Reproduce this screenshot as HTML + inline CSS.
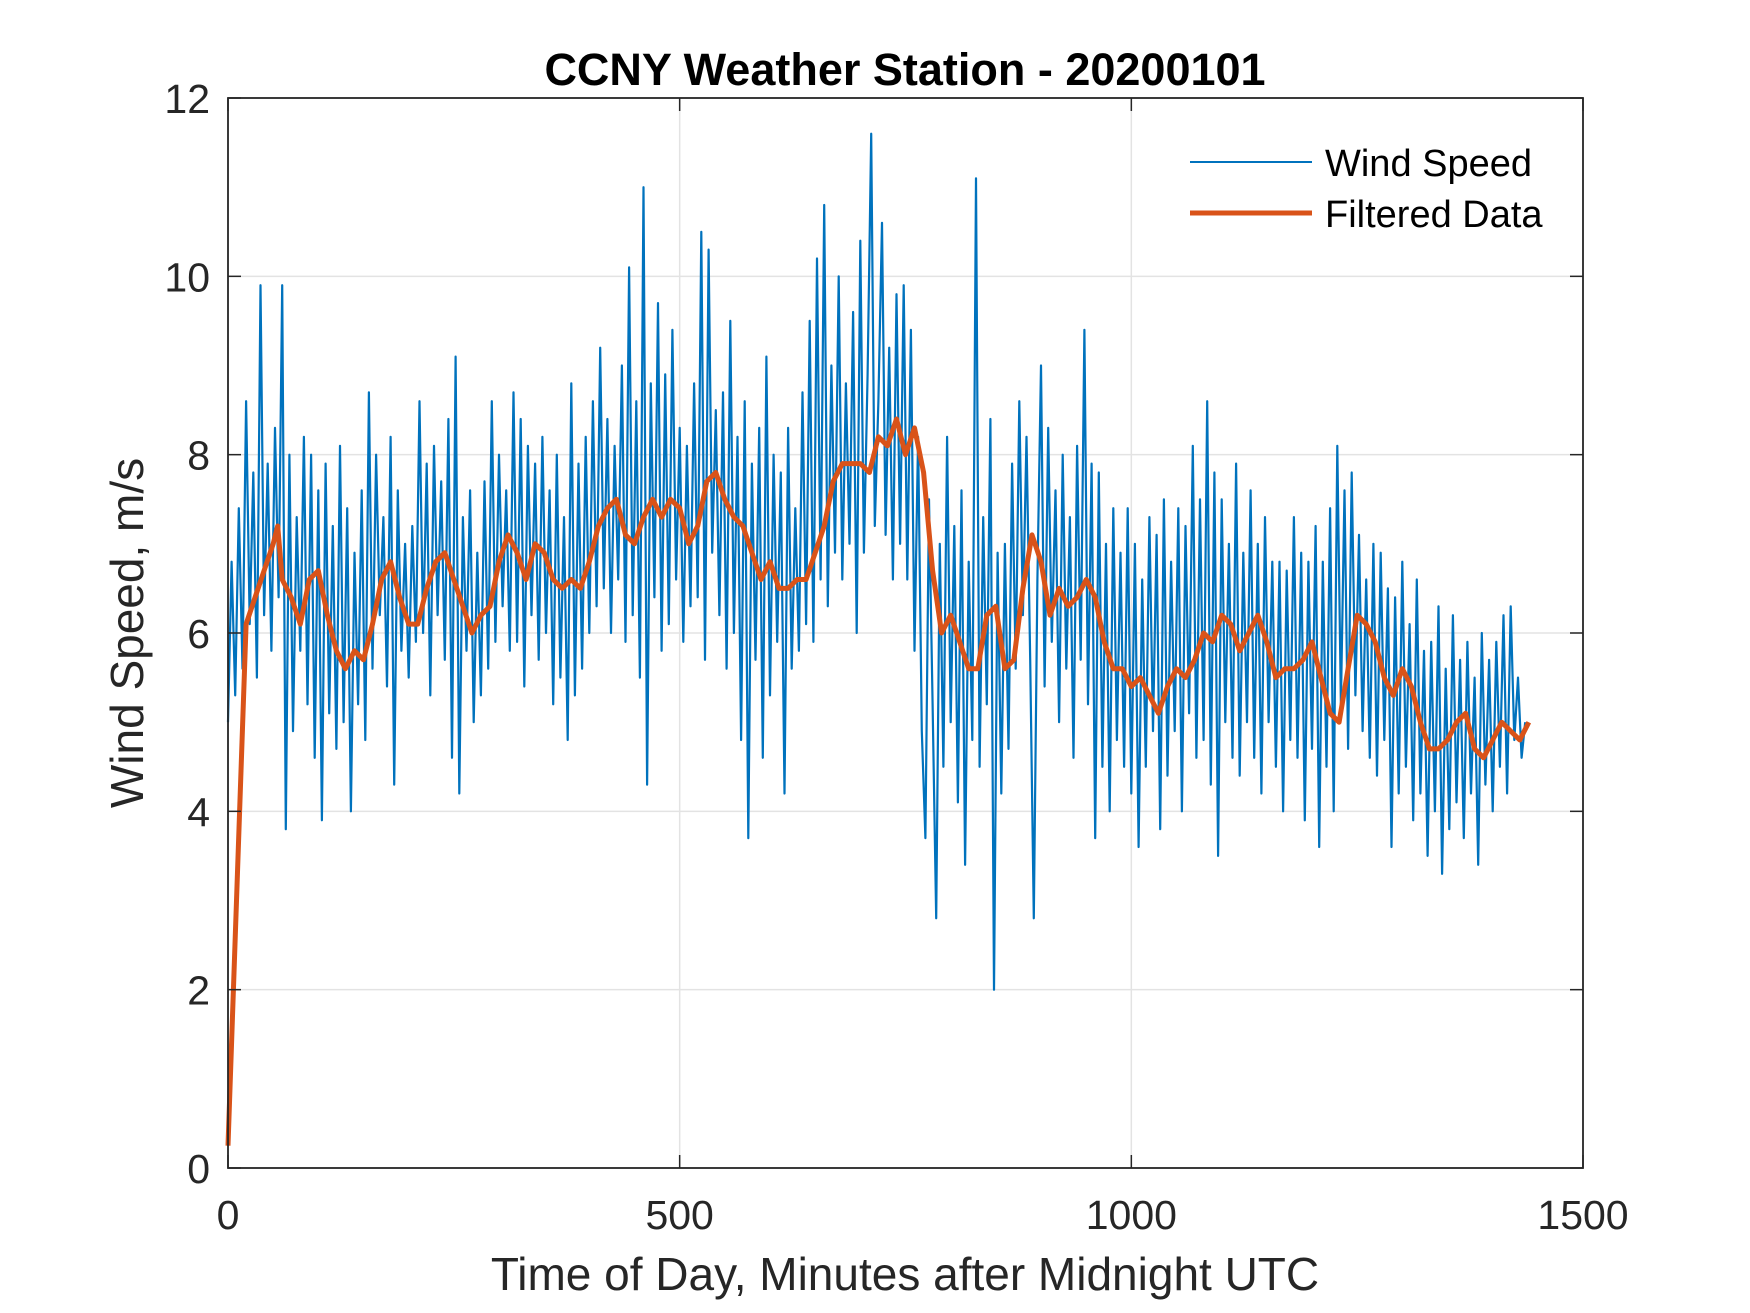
<!DOCTYPE html>
<html><head><meta charset="utf-8"><style>
html,body{margin:0;padding:0;background:#fff;}
svg{display:block;}
text{font-family:"Liberation Sans",Arial,sans-serif;fill:#262626;}
</style></head><body>
<svg id="chart" width="1750" height="1313" viewBox="0 0 1750 1313" xmlns="http://www.w3.org/2000/svg">
<rect width="1750" height="1313" fill="#fff"/>
<g id="grid"></g><g id="series"></g><g id="axes"></g>
<text x="905" y="85" text-anchor="middle" font-size="45" font-weight="bold" style="fill:#000">CCNY Weather Station - 20200101</text>
<text x="905" y="1290" text-anchor="middle" font-size="46">Time of Day, Minutes after Midnight UTC</text>
<text transform="translate(143,633) rotate(-90)" text-anchor="middle" font-size="46">Wind Speed, m/s</text>
<g>
<line x1="1190" y1="162" x2="1312" y2="162" stroke="#0072BD" stroke-width="2"/>
<text x="1325" y="176" font-size="38" style="fill:#000">Wind Speed</text>
<line x1="1190" y1="213" x2="1312" y2="213" stroke="#D95319" stroke-width="5"/>
<text x="1325" y="227" font-size="38" style="fill:#000">Filtered Data</text>
</g>
</svg>
<script>
const xTicks=[0,500,1000,1500];
const yTicks=[0,2,4,6,8,10,12];
const windStep=4;
const windValues=[
5.0,6.8,5.3,7.4,5.6,8.6,6.1,7.8,5.5,9.9,
6.2,7.9,5.8,8.3,6.4,9.9,3.8,8.0,4.9,7.3,
5.8,8.2,5.2,8.0,4.6,7.6,3.9,7.9,5.1,7.2,
4.7,8.1,5.0,7.4,4.0,6.9,5.2,7.6,4.8,8.7,
5.6,8.0,6.2,7.3,5.4,8.2,4.3,7.6,5.8,7.0,
5.5,7.2,5.9,8.6,6.0,7.9,5.3,8.1,6.2,7.7,
5.7,8.4,4.6,9.1,4.2,7.3,5.8,7.6,5.0,6.9,
5.3,7.7,5.6,8.6,5.9,8.0,6.3,7.6,5.8,8.7,
5.9,8.4,5.4,8.1,6.2,7.9,5.7,8.2,6.0,7.6,
5.2,8.0,5.5,7.3,4.8,8.8,5.3,7.9,5.6,8.2,
6.0,8.6,6.3,9.2,6.5,8.4,6.0,8.1,6.6,9.0,
5.9,10.1,6.2,8.6,5.5,11.0,4.3,8.8,6.4,9.7,
5.8,8.9,6.1,9.4,6.6,8.3,5.9,8.1,6.3,8.8,
6.4,10.5,5.7,10.3,6.9,8.5,6.2,8.7,5.6,9.5,
6.0,8.2,4.8,8.6,3.7,7.9,5.7,8.3,4.6,9.1,
5.3,8.0,5.9,7.8,4.2,8.3,5.6,7.4,5.8,8.7,
6.1,9.5,5.9,10.2,6.6,10.8,6.3,9.0,6.9,10.0,
6.6,8.8,7.0,9.6,6.0,10.4,6.9,8.9,11.6,7.2,
8.6,10.6,7.1,9.2,6.6,9.8,7.0,9.9,6.6,9.4,
5.8,8.2,4.9,3.7,7.5,5.2,2.8,7.0,4.5,8.2,
5.0,7.2,4.1,7.6,3.4,6.8,4.8,11.1,4.5,7.3,
5.2,8.4,2.0,6.9,4.2,7.0,4.7,7.9,5.6,8.6,
6.2,8.2,5.7,2.8,6.6,9.0,5.4,8.3,5.9,7.6,
5.0,8.0,5.6,7.3,4.6,8.1,5.7,9.4,5.2,7.9,
3.7,7.8,4.5,7.0,4.0,7.4,4.8,6.9,4.5,7.4,
4.2,7.0,3.6,6.6,4.5,7.3,4.9,7.1,3.8,7.5,
4.4,6.8,4.9,7.4,4.0,7.2,5.1,8.1,4.6,7.5,
4.8,8.6,4.3,7.8,3.5,7.5,5.0,7.0,4.6,7.9,
4.4,6.9,5.0,7.6,4.6,7.0,4.2,7.3,5.0,6.8,
4.5,6.8,4.0,6.7,4.8,7.3,4.6,6.9,3.9,6.8,
4.7,7.2,3.6,6.8,4.5,7.4,4.0,8.1,5.2,7.6,
4.7,7.8,5.3,7.1,4.9,6.6,4.6,7.0,4.4,6.9,
4.8,6.5,3.6,6.4,4.2,6.8,4.5,6.1,3.9,6.6,
4.2,5.8,3.5,5.9,4.0,6.3,3.3,5.6,3.8,6.2,
4.1,5.7,3.7,5.9,4.2,5.5,3.4,6.0,4.3,5.7,
4.0,5.9,4.5,6.2,4.2,6.3,4.8,5.5,4.6,5.0];
const filtMinutes=[0,20,30,40,50,55,60,70,80,90,100,110,120,130,140,150,160,170,180,190,200,210,220,230,240,250,260,270,280,290,300,310,320,330,340,350,360,370,380,390,400,410,420,430,440,450,460,470,480,490,500,510,520,530,540,550,560,570,580,590,600,610,620,630,640,650,660,670,680,690,700,710,720,730,740,750,760,770,780,790,800,810,820,830,840,850,860,870,880,890,900,910,920,930,940,950,960,970,980,990,1000,1010,1020,1030,1040,1050,1060,1070,1080,1090,1100,1110,1120,1130,1140,1150,1160,1170,1180,1190,1200,1210,1220,1230,1240,1250,1260,1270,1280,1290,1300,1310,1320,1330,1340,1350,1360,1370,1380,1390,1400,1410,1420,1430,1440];
const filtValues=[0.25,6.1,6.4,6.7,7.0,7.2,6.6,6.4,6.1,6.6,6.7,6.2,5.8,5.6,5.8,5.7,6.1,6.6,6.8,6.4,6.1,6.1,6.5,6.8,6.9,6.6,6.3,6.0,6.2,6.3,6.8,7.1,6.9,6.6,7.0,6.9,6.6,6.5,6.6,6.5,6.8,7.2,7.4,7.5,7.1,7.0,7.3,7.5,7.3,7.5,7.4,7.0,7.2,7.7,7.8,7.5,7.3,7.2,6.9,6.6,6.8,6.5,6.5,6.6,6.6,6.9,7.2,7.7,7.9,7.9,7.9,7.8,8.2,8.1,8.4,8.0,8.3,7.8,6.7,6.0,6.2,5.9,5.6,5.6,6.2,6.3,5.6,5.7,6.5,7.1,6.8,6.2,6.5,6.3,6.4,6.6,6.4,5.9,5.6,5.6,5.4,5.5,5.3,5.1,5.4,5.6,5.5,5.7,6.0,5.9,6.2,6.1,5.8,6.0,6.2,5.9,5.5,5.6,5.6,5.7,5.9,5.5,5.1,5.0,5.6,6.2,6.1,5.9,5.5,5.3,5.6,5.4,5.0,4.7,4.7,4.8,5.0,5.1,4.7,4.6,4.8,5.0,4.9,4.8,5.0];

const L=228,R=1583,T=98,B=1168;
const xs=v=>L+(v-0)/(1500-0)*(R-L);
const ys=v=>B-(v-0)/(12-0)*(B-T);
const NS='http://www.w3.org/2000/svg';
function mk(tag,attrs,parent){const e=document.createElementNS(NS,tag);for(const k in attrs)e.setAttribute(k,attrs[k]);parent.appendChild(e);return e;}
const grid=document.getElementById('grid'),axes=document.getElementById('axes'),series=document.getElementById('series');
xTicks.forEach(t=>{
  const g=mk('line',{x1:xs(t),x2:xs(t),y1:T,y2:B,stroke:'#e3e3e3','stroke-width':1.5},grid);
  
  
  mk('line',{x1:xs(t),x2:xs(t),y1:B,y2:B-13,stroke:'#262626','stroke-width':1.5},axes);
  mk('line',{x1:xs(t),x2:xs(t),y1:T,y2:T+13,stroke:'#262626','stroke-width':1.5},axes);
  const tx=mk('text',{x:xs(t),y:1229,'text-anchor':'middle','font-size':41},axes);
  tx.textContent=t;
  
  
});
yTicks.forEach(t=>{
  const g=mk('line',{x1:L,x2:R,y1:ys(t),y2:ys(t),stroke:'#e3e3e3','stroke-width':1.5},grid);
  
  
  mk('line',{x1:L,x2:L+13,y1:ys(t),y2:ys(t),stroke:'#262626','stroke-width':1.5},axes);
  mk('line',{x1:R,x2:R-13,y1:ys(t),y2:ys(t),stroke:'#262626','stroke-width':1.5},axes);
  const tx=mk('text',{x:210,y:ys(t)+15,'text-anchor':'end','font-size':41},axes);
  tx.textContent=t;
  
  
});
const box=mk('rect',{x:L,y:T,width:R-L,height:B-T,fill:'none',stroke:'#262626','stroke-width':1.8},axes);


const wp=windValues.map((v,i)=>xs(i*windStep).toFixed(1)+','+ys(v).toFixed(1)).join(' ');
const w=mk('polyline',{points:wp,fill:'none',stroke:'#0072BD','stroke-width':2.2,'stroke-linejoin':'round'},series);


const fp=filtValues.map((v,i)=>xs(filtMinutes[i]).toFixed(1)+','+ys(v).toFixed(1)).join(' ');
const f=mk('polyline',{points:fp,fill:'none',stroke:'#D95319','stroke-width':5,'stroke-linejoin':'round'},series);


</script>
</body></html>
